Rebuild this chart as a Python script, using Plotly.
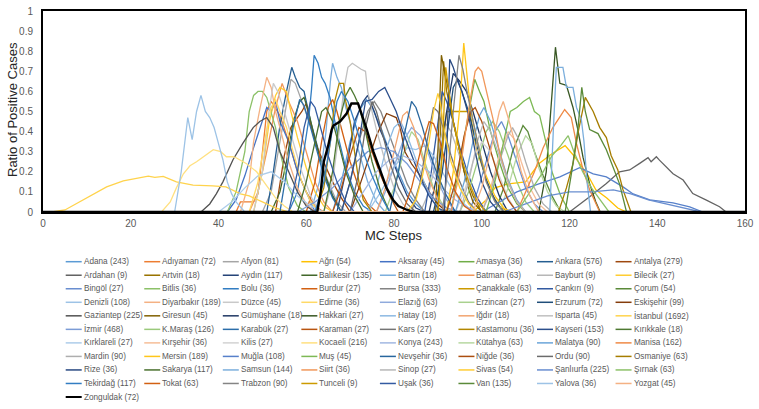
import colorsys
import plotly.graph_objects as go

provinces = ["Adana", "Adıyaman", "Afyon", "Ağrı", "Aksaray", "Amasya", "Ankara", "Antalya",
             "Ardahan", "Artvin", "Aydın", "Balıkesir", "Bartın", "Batman", "Bayburt", "Bilecik",
             "Bingöl", "Bitlis", "Bolu", "Burdur", "Bursa", "Çanakkale", "Çankırı", "Çorum",
             "Denizli", "Diyarbakır", "Düzce", "Edirne", "Elazığ", "Erzincan", "Erzurum", "Eskişehir",
             "Gaziantep", "Giresun", "Gümüşhane", "Hakkari", "Hatay", "Iğdır", "Isparta", "İstanbul",
             "İzmir", "K.Maraş", "Karabük", "Karaman", "Kars", "Kastamonu", "Kayseri", "Kırıkkale",
             "Kırklareli", "Kırşehir", "Kilis", "Kocaeli", "Konya", "Kütahya", "Malatya", "Manisa",
             "Mardin", "Mersin", "Muğla", "Muş", "Nevşehir", "Niğde", "Ordu", "Osmaniye",
             "Rize", "Sakarya", "Samsun", "Siirt", "Sinop", "Sivas", "Şanlıurfa", "Şırnak",
             "Tekirdağ", "Tokat", "Trabzon", "Tunceli", "Uşak", "Van", "Yalova", "Yozgat",
             "Zonguldak"]

cases = [243, 72, 81, 54, 45, 36, 576, 279,
         9, 18, 117, 135, 18, 63, 9, 27,
         27, 36, 36, 27, 333, 63, 9, 54,
         108, 189, 45, 36, 63, 27, 72, 99,
         225, 45, 18, 27, 18, 18, 45, 1692,
         468, 126, 27, 27, 27, 36, 153, 18,
         27, 36, 27, 216, 243, 63, 90, 162,
         90, 189, 108, 45, 36, 36, 90, 63,
         36, 117, 144, 36, 27, 54, 225, 63,
         117, 63, 90, 9, 36, 135, 36, 45,
         72]

# MC step positions of the read-off points of each series (same order as provinces)
series_x = [
    [66, 68, 70, 72, 73.7, 75, 77, 79, 81, 83, 85, 87],
    [44, 45, 48, 49, 50, 51, 52, 54, 56, 58, 60, 62, 64],
    [50, 52, 54, 55.5, 56.5, 57.5, 58.5, 60, 61.5, 63, 65, 67, 69],
    [98, 101, 103, 106, 110, 113, 116, 119, 121, 124, 126, 128.5, 131, 133],
    [42, 44, 46, 48, 49.5, 51, 52, 53, 54, 56, 58, 60, 62],
    [93, 95, 97, 98.4, 99.5, 100.5, 102, 104, 106, 108, 110],
    [51, 52.5, 54, 55.5, 56.7, 57.5, 58.5, 59.5, 61, 62.5, 64, 66, 68],
    [53, 55, 56.5, 58, 59, 60, 61, 62.5, 64, 66, 68, 70],
    [120, 124.6, 128.4, 131.4, 133.7, 136, 137.9, 138.6, 139.8, 140.5, 142, 143.6, 145.9, 148.1, 151.2, 154.2, 155.7],
    [90, 90.6, 91.3, 92, 93, 94.5, 96, 98, 100],
    [67, 69, 71, 73, 74, 75.5, 77, 79, 81, 83, 85, 87],
    [52, 54, 55.5, 57, 58.5, 59.5, 60.5, 62, 64, 66, 68],
    [61, 63, 64.5, 65.5, 66, 67, 68, 69, 70, 72, 74, 76, 78],
    [47, 49, 51, 53, 54.5, 56, 58, 60, 62, 64, 66],
    [86, 88, 90, 91.5, 93, 95, 97, 99, 101],
    [48, 50, 51.5, 53, 54, 55.5, 56.5, 58, 60, 62, 64, 66],
    [97, 99, 101, 103, 104.5, 106, 108, 110, 112, 114],
    [42, 44, 46, 47, 48, 49, 50, 51, 52, 53, 54, 56, 58, 60],
    [56, 58, 59.5, 60.5, 61.2, 61.8, 62.7, 63.5, 64.3, 65.4, 67, 69, 71, 73, 75],
    [60, 62, 63.5, 65, 66, 67, 68.5, 70, 72, 74, 76],
    [68, 70, 72, 74, 75.5, 77, 79, 81, 83, 85, 87],
    [90, 91, 92, 95, 97.3, 98, 99, 100.5, 102, 104, 106],
    [87, 88.5, 90, 91, 92, 93.5, 95, 97, 99, 101],
    [103, 105, 107, 109.4, 110.5, 112, 114, 116, 118],
    [74, 77, 80, 83, 85, 87, 89, 91, 93, 95, 97, 99],
    [45, 47, 48, 49.5, 51, 52, 53, 54, 56, 58, 60, 62],
    [48, 50, 51.5, 52.5, 53.5, 55, 57, 59, 61, 63],
    [47, 49, 50.5, 52, 53, 54, 55.5, 57, 59, 61, 63],
    [76, 78, 80, 82, 84, 86, 88, 90, 92, 94],
    [78, 80, 82, 84, 85.5, 87, 89, 91, 93],
    [89, 91, 92.5, 93.5, 94.5, 95.5, 97, 99, 101, 103, 105],
    [70, 72, 74, 76, 78.3, 80.5, 81.5, 82.5, 84, 86, 88, 90, 92],
    [36, 38, 39.5, 41, 43.3, 45.5, 47.9, 49.4, 51, 52.5, 54, 56, 58, 60, 62],
    [89.5, 90, 90.8, 91.5, 92.5, 93.5, 95, 96.5, 98, 100],
    [88, 90, 92, 93.5, 95, 96.5, 98, 100, 102, 104, 106],
    [113, 114.7, 115.8, 116.8, 117.8, 119.3, 120.8, 121.9, 123.1, 124.6, 126, 127],
    [74, 76, 78, 80, 81.5, 83, 85, 87, 89, 91],
    [76, 78, 80, 82, 83, 84.5, 86, 88, 90, 92],
    [64, 66, 67.5, 68.5, 69.5, 70.5, 72.5, 73.5, 74, 75, 76, 78, 80, 82, 84],
    [2, 5, 9, 14.5, 18.3, 22, 24, 25.5, 27.4, 30.4, 34.2, 38.7, 41.7, 45, 47, 50, 53, 56],
    [58, 62, 66, 70, 74, 77, 80, 83, 86, 89, 92, 95],
    [95, 97, 99, 101, 102.5, 104, 106, 108, 110, 112],
    [54, 55.5, 57, 58.5, 59.5, 61, 62.5, 64, 66, 68],
    [66, 68, 70, 72, 73.5, 75, 77, 79, 81],
    [84, 86, 87.5, 89, 90, 91.5, 93, 95, 97, 99],
    [62, 64, 65.5, 66.5, 67.5, 68.5, 69, 70, 71, 72, 73, 75],
    [68, 70, 72, 73.5, 75, 76.5, 77.9, 79, 80.5, 82, 84, 86, 88, 90, 92],
    [64, 66, 67.5, 69, 70, 71, 72, 73.5, 75, 77, 79],
    [40, 43, 46, 49, 52, 55, 58, 61, 64],
    [100, 102, 104, 106, 107.5, 109, 111, 113, 115],
    [94, 96, 98, 100, 102, 104, 106, 108],
    [27, 29, 30.4, 32, 33.5, 35, 37, 38.8, 40.5, 41.8, 43.3, 44, 46.4, 48.7, 51, 53, 55, 57],
    [70, 73, 76, 79, 82, 85, 88, 91, 94, 97, 100],
    [104, 106, 108, 110, 111.5, 113, 115, 117, 119],
    [94, 96, 98, 99.5, 100.5, 102, 104, 106, 108, 110],
    [108, 110, 112, 114, 116.2, 118, 118.9, 120.4, 121.6, 123.1, 124.6, 126.9],
    [100, 102, 104, 106, 107, 108.5, 110, 112, 114, 116],
    [92, 93.5, 95, 95.9, 96.4, 97, 98, 99.5, 101, 103, 105, 107],
    [100, 104, 108, 113, 117.8, 122.3, 125.4, 128.4, 132.2, 134.5, 138.3, 143.6, 147.4, 150.4],
    [101, 103, 105, 106.5, 108, 109.5, 110.9, 112, 113.2, 114.7, 116, 118, 120],
    [79, 81, 82.5, 84, 85, 86.5, 88, 90, 92, 94],
    [92, 94, 96, 97.5, 98.5, 100, 102, 104, 106, 108],
    [70, 72, 73.5, 75, 76, 77.5, 79, 81, 83, 85],
    [117.5, 119.3, 120.8, 122, 123.6, 125.4, 126.9, 128.4, 129.5, 131, 132.2, 134],
    [91.5, 92, 92.7, 93.5, 94.5, 95.5, 97, 98.5, 100, 102, 104],
    [58, 60, 62, 63.5, 64.5, 66, 67.5, 69, 71, 73],
    [115.5, 116.3, 117, 118.5, 119.3, 120.8, 121.6, 122.7, 123.3, 124, 124.8],
    [93, 95, 97.3, 98.5, 99.2, 100, 101.4, 102.6, 104, 106, 108, 110],
    [95, 97, 99, 100.5, 102, 104, 106, 108, 110],
    [83, 85, 86.5, 88, 89, 90, 90.5, 91.5, 93, 95, 97, 99],
    [105, 110, 115, 120, 125, 130, 134, 138, 142, 146, 150],
    [108, 111, 114, 116, 118, 119.7, 121, 123, 125, 127, 129],
    [62, 64, 65.5, 67, 68, 69.5, 71, 73, 75, 77, 79],
    [82, 84, 86, 88, 89, 90.5, 92, 94, 96, 98],
    [91, 92.5, 93.5, 94.8, 95.7, 96.8, 98, 99.5, 101, 103, 105],
    [90, 91, 91.8, 92.5, 93.5, 95, 97, 99, 101],
    [56, 58, 59.5, 61, 62, 63.5, 65, 67, 69, 71],
    [119, 120.5, 121.9, 122.8, 123.6, 124.6, 126.5, 128.4, 130, 131.4, 133],
    [30, 31.5, 33, 34, 35, 36, 37, 38, 39, 40, 41, 42, 43, 44, 46],
    [98, 100, 102, 104, 104.9, 106, 107.5, 109, 111, 113],
    [62.5, 63.3, 64, 65, 65.8, 66.2, 67.7, 69.2, 70.3, 71.8, 72.6, 73.8, 75.3, 76.8, 78.3, 79.8, 81, 83, 84.5],
]

# ratio of positive cases at those steps
series_y = [
    [0, 0.15, 0.35, 0.5, 0.56, 0.52, 0.42, 0.3, 0.2, 0.1, 0.04, 0],
    [0, 0.05, 0.05, 0.09, 0.3, 0.5, 0.55, 0.48, 0.35, 0.2, 0.1, 0.03, 0],
    [0, 0.1, 0.35, 0.55, 0.66, 0.64, 0.58, 0.5, 0.4, 0.28, 0.15, 0.05, 0],
    [0, 0.06, 0.12, 0.14, 0.15, 0.24, 0.29, 0.33, 0.28, 0.19, 0.11, 0.07, 0.02, 0],
    [0, 0.06, 0.18, 0.32, 0.42, 0.52, 0.5, 0.55, 0.45, 0.35, 0.2, 0.1, 0],
    [0, 0.25, 0.5, 0.66, 0.6, 0.55, 0.4, 0.25, 0.12, 0.04, 0],
    [0, 0.2, 0.43, 0.6, 0.72, 0.67, 0.62, 0.6, 0.45, 0.33, 0.2, 0.08, 0],
    [0, 0.28, 0.42, 0.47, 0.5, 0.54, 0.43, 0.32, 0.25, 0.15, 0.07, 0],
    [0, 0.076, 0.142, 0.2, 0.209, 0.242, 0.27, 0.25, 0.275, 0.258, 0.225, 0.19, 0.159, 0.092, 0.059, 0.026, 0],
    [0, 0.4, 0.75, 0.6, 0.5, 0.35, 0.2, 0.08, 0],
    [0, 0.2, 0.45, 0.55, 0.58, 0.5, 0.4, 0.3, 0.18, 0.08, 0.02, 0],
    [0, 0.1, 0.25, 0.45, 0.55, 0.57, 0.5, 0.36, 0.2, 0.08, 0],
    [0, 0.15, 0.4, 0.65, 0.74, 0.67, 0.62, 0.52, 0.45, 0.3, 0.15, 0.05, 0],
    [0, 0.1, 0.3, 0.52, 0.64, 0.55, 0.45, 0.3, 0.15, 0.05, 0],
    [0, 0.1, 0.3, 0.45, 0.4, 0.28, 0.15, 0.05, 0],
    [0, 0.2, 0.44, 0.58, 0.62, 0.6, 0.5, 0.37, 0.22, 0.1, 0.03, 0],
    [0, 0.1, 0.25, 0.4, 0.45, 0.38, 0.25, 0.12, 0.04, 0],
    [0, 0.1, 0.3, 0.5, 0.58, 0.6, 0.6, 0.57, 0.5, 0.42, 0.3, 0.12, 0.03, 0],
    [0, 0.1, 0.3, 0.45, 0.61, 0.78, 0.74, 0.67, 0.64, 0.57, 0.4, 0.22, 0.1, 0.03, 0],
    [0, 0.15, 0.35, 0.52, 0.56, 0.5, 0.38, 0.25, 0.12, 0.04, 0],
    [0, 0.15, 0.35, 0.5, 0.55, 0.5, 0.38, 0.25, 0.14, 0.06, 0],
    [0, 0.3, 0.5, 0.5, 0.5, 0.4, 0.3, 0.2, 0.1, 0.03, 0],
    [0, 0.2, 0.45, 0.6, 0.55, 0.45, 0.32, 0.18, 0.07, 0],
    [0, 0.12, 0.3, 0.43, 0.4, 0.3, 0.18, 0.08, 0],
    [0, 0.1, 0.22, 0.32, 0.31, 0.33, 0.28, 0.2, 0.12, 0.06, 0.02, 0],
    [0, 0.15, 0.35, 0.52, 0.67, 0.62, 0.5, 0.42, 0.25, 0.12, 0.04, 0],
    [0, 0.2, 0.5, 0.64, 0.6, 0.5, 0.35, 0.2, 0.08, 0],
    [0, 0.15, 0.35, 0.52, 0.56, 0.5, 0.42, 0.3, 0.15, 0.05, 0],
    [0, 0.1, 0.22, 0.35, 0.42, 0.38, 0.28, 0.15, 0.06, 0],
    [0, 0.12, 0.28, 0.4, 0.36, 0.25, 0.12, 0.04, 0],
    [0, 0.2, 0.45, 0.62, 0.66, 0.6, 0.5, 0.32, 0.16, 0.06, 0],
    [0, 0.12, 0.25, 0.38, 0.49, 0.47, 0.41, 0.3, 0.24, 0.18, 0.1, 0.04, 0],
    [0, 0.04, 0.09, 0.15, 0.26, 0.34, 0.42, 0.45, 0.47, 0.42, 0.3, 0.2, 0.1, 0.03, 0],
    [0, 0.3, 0.78, 0.7, 0.6, 0.45, 0.3, 0.15, 0.05, 0],
    [0, 0.2, 0.5, 0.69, 0.65, 0.6, 0.5, 0.35, 0.2, 0.08, 0],
    [0, 0.2, 0.5, 0.82, 0.64, 0.63, 0.52, 0.41, 0.27, 0.14, 0.05, 0],
    [0, 0.12, 0.3, 0.42, 0.45, 0.38, 0.26, 0.14, 0.05, 0],
    [0, 0.12, 0.3, 0.48, 0.5, 0.42, 0.3, 0.16, 0.06, 0],
    [0, 0.15, 0.4, 0.6, 0.72, 0.74, 0.71, 0.7, 0.6, 0.5, 0.41, 0.25, 0.12, 0.04, 0],
    [0, 0.01, 0.06, 0.125, 0.155, 0.17, 0.178, 0.172, 0.177, 0.15, 0.134, 0.13, 0.125, 0.09, 0.08, 0.05, 0.02, 0],
    [0, 0.05, 0.12, 0.22, 0.3, 0.32, 0.3, 0.24, 0.15, 0.07, 0.02, 0],
    [0, 0.1, 0.25, 0.4, 0.45, 0.4, 0.28, 0.15, 0.05, 0],
    [0, 0.2, 0.42, 0.56, 0.53, 0.42, 0.3, 0.18, 0.07, 0],
    [0, 0.12, 0.28, 0.42, 0.4, 0.3, 0.18, 0.08, 0],
    [0, 0.15, 0.35, 0.52, 0.5, 0.4, 0.28, 0.15, 0.05, 0],
    [0, 0.12, 0.35, 0.55, 0.64, 0.64, 0.55, 0.45, 0.3, 0.15, 0.06, 0],
    [0, 0.15, 0.35, 0.55, 0.56, 0.6, 0.62, 0.57, 0.5, 0.4, 0.28, 0.17, 0.08, 0.02, 0],
    [0, 0.2, 0.45, 0.58, 0.62, 0.58, 0.53, 0.4, 0.25, 0.1, 0],
    [0, 0.05, 0.12, 0.18, 0.2, 0.15, 0.08, 0.03, 0],
    [0, 0.12, 0.28, 0.4, 0.36, 0.25, 0.12, 0.04, 0],
    [0, 0.1, 0.25, 0.35, 0.3, 0.18, 0.07, 0],
    [0, 0.05, 0.12, 0.19, 0.23, 0.25, 0.28, 0.31, 0.3, 0.275, 0.275, 0.27, 0.24, 0.2, 0.13, 0.07, 0.03, 0],
    [0, 0.1, 0.2, 0.26, 0.28, 0.25, 0.2, 0.12, 0.06, 0.02, 0],
    [0, 0.12, 0.28, 0.38, 0.34, 0.22, 0.1, 0.03, 0],
    [0, 0.15, 0.35, 0.48, 0.52, 0.45, 0.3, 0.16, 0.06, 0],
    [0, 0.1, 0.2, 0.32, 0.42, 0.48, 0.51, 0.47, 0.34, 0.21, 0.11, 0],
    [0, 0.1, 0.25, 0.38, 0.42, 0.36, 0.25, 0.12, 0.04, 0],
    [0, 0.2, 0.52, 0.84, 0.74, 0.6, 0.45, 0.3, 0.18, 0.08, 0.02, 0],
    [0, 0.05, 0.1, 0.14, 0.175, 0.22, 0.19, 0.175, 0.125, 0.09, 0.06, 0.045, 0.025, 0],
    [0, 0.15, 0.35, 0.5, 0.52, 0.55, 0.57, 0.5, 0.48, 0.34, 0.2, 0.08, 0],
    [0, 0.2, 0.4, 0.55, 0.52, 0.42, 0.3, 0.18, 0.08, 0],
    [0, 0.15, 0.38, 0.5, 0.52, 0.45, 0.3, 0.16, 0.06, 0],
    [0, 0.2, 0.42, 0.55, 0.5, 0.38, 0.25, 0.12, 0.04, 0],
    [0, 0.12, 0.24, 0.4, 0.57, 0.5, 0.42, 0.37, 0.28, 0.21, 0.11, 0],
    [0, 0.3, 0.76, 0.72, 0.65, 0.6, 0.48, 0.3, 0.15, 0.05, 0],
    [0, 0.15, 0.35, 0.5, 0.52, 0.45, 0.33, 0.2, 0.08, 0],
    [0, 0.4, 0.72, 0.72, 0.62, 0.62, 0.52, 0.46, 0.35, 0.15, 0],
    [0, 0.2, 0.55, 0.7, 0.72, 0.7, 0.57, 0.46, 0.3, 0.15, 0.05, 0],
    [0, 0.15, 0.35, 0.45, 0.4, 0.28, 0.15, 0.05, 0],
    [0, 0.06, 0.18, 0.35, 0.5, 0.59, 0.55, 0.4, 0.25, 0.12, 0.04, 0],
    [0, 0.04, 0.08, 0.1, 0.1, 0.11, 0.09, 0.06, 0.04, 0.02, 0],
    [0, 0.1, 0.2, 0.28, 0.33, 0.38, 0.3, 0.2, 0.12, 0.06, 0],
    [0, 0.15, 0.35, 0.55, 0.6, 0.55, 0.45, 0.3, 0.18, 0.08, 0],
    [0, 0.12, 0.3, 0.45, 0.44, 0.35, 0.22, 0.1, 0.03, 0],
    [0, 0.25, 0.5, 0.78, 0.71, 0.58, 0.45, 0.3, 0.15, 0.05, 0],
    [0, 0.3, 0.72, 0.6, 0.45, 0.3, 0.15, 0.05, 0],
    [0, 0.2, 0.42, 0.55, 0.52, 0.4, 0.28, 0.15, 0.05, 0],
    [0, 0.2, 0.41, 0.62, 0.5, 0.41, 0.39, 0.31, 0.22, 0.14, 0],
    [0, 0.2, 0.47, 0.36, 0.5, 0.58, 0.5, 0.47, 0.42, 0.34, 0.26, 0.15, 0.09, 0.05, 0],
    [0, 0.12, 0.3, 0.5, 0.55, 0.47, 0.35, 0.2, 0.08, 0],
    [0, 0.1, 0.25, 0.33, 0.41, 0.43, 0.45, 0.49, 0.54, 0.54, 0.49, 0.41, 0.3, 0.21, 0.12, 0.06, 0.03, 0.01, 0],
]

x_ticks = [0, 20, 40, 60, 80, 100, 120, 140, 160]
y_ticks = [0, 0.1, 0.2, 0.3, 0.4, 0.5, 0.6, 0.7, 0.8, 0.9, 1]
y_tick_labels = ["0", "0.1", "0.2", "0.3", "0.4", "0.5", "0.6", "0.7", "0.8", "0.9", "1"]
x_range = [0, 160]
y_range = [0, 1]

# ---- styling (Excel-like default palette with variants) ----
ACCENTS = ["#5B9BD5", "#ED7D31", "#A5A5A5", "#FFC000", "#4472C4", "#70AD47"]
VARIANTS = [(1, 0), (0.6, 0), (0.8, 0.2), (0.8, 0), (0.6, 0.4), (0.5, 0), (0.7, 0.3),
            (0.7, 0), (0.5, 0.5), (0.9, 0.1), (0.65, 0), (0.8, 0.2), (0.8, 0), (0.6, 0.4)]


def palette_color(i):
    base = ACCENTS[i % 6]
    mod, off = VARIANTS[(i // 6) % len(VARIANTS)]
    r, g, b = (int(base[k:k + 2], 16) / 255 for k in (1, 3, 5))
    h, l, s = colorsys.rgb_to_hls(r, g, b)
    l = min(1.0, l * mod + off)
    r, g, b = colorsys.hls_to_rgb(h, l, s)
    return "#%02x%02x%02x" % (round(r * 255), round(g * 255), round(b * 255))


colors = [palette_color(i) for i in range(len(provinces))]
colors[provinces.index("Zonguldak")] = "#000000"

FONT = "Liberation Sans, Arial, sans-serif"
TXT = "#595959"
W, H = 759, 409
ML, MR, MT, MB = 43, 14, 11, 197
PW, PH = W - ML - MR, H - MT - MB

fig = go.Figure()
for i, name in enumerate(provinces):
    xs = [x_range[0]] + series_x[i] + [x_range[1]]
    ys = [0] + series_y[i] + [0]
    fig.add_trace(go.Scatter(
        x=xs, y=ys, mode="lines", name=f"{name} ({cases[i]})",
        line=dict(color=colors[i], width=2.4 if name == "Zonguldak" else 1.3),
        showlegend=False, hoverinfo="name+x+y"))


def px_x(px):
    return (px - ML) / PW


def px_y(py):
    return (H - MB - py) / PH


shapes = []
annotations = []
# custom legend, 8 columns
for i, name in enumerate(provinces):
    col, row = i % 8, i // 8
    lx = 65.7 + 78.55 * col
    ly = 261.7 + 13.53 * row
    shapes.append(dict(type="line", xref="paper", yref="paper",
                       x0=px_x(lx), x1=px_x(lx + 16), y0=px_y(ly), y1=px_y(ly),
                       line=dict(color=colors[i], width=2 if name == "Zonguldak" else 1.5)))
    annotations.append(dict(xref="paper", yref="paper", x=px_x(lx + 16), y=px_y(ly),
                            xanchor="left", yanchor="middle", showarrow=False,
                            text=f"{name} ({cases[i]})",
                            font=dict(family=FONT, size=8.2, color=TXT)))

annotations.append(dict(xref="paper", yref="paper", x=px_x(12), y=px_y(110),
                        text="Ratio of Positive Cases", textangle=-90, showarrow=False,
                        xanchor="center", yanchor="middle",
                        font=dict(family=FONT, size=13, color="#262626")))
annotations.append(dict(xref="paper", yref="paper", x=px_x(394), y=px_y(236),
                        text="MC Steps", showarrow=False, xanchor="center", yanchor="middle",
                        font=dict(family=FONT, size=13, color="#262626")))

fig.update_layout(
    width=W, height=H, autosize=False,
    margin=dict(l=ML, r=MR, t=MT, b=MB, pad=0, autoexpand=False),
    paper_bgcolor="white", plot_bgcolor="white",
    showlegend=False,
    shapes=shapes, annotations=annotations,
    font=dict(family=FONT, color=TXT),
)
fig.update_xaxes(range=x_range, tickvals=x_ticks, ticktext=[str(v) for v in x_ticks],
                 showgrid=False, zeroline=False, showline=True, mirror=True,
                 linecolor="black", linewidth=2, ticks="", layer="below traces",
                 automargin=False, ticklabelstandoff=1,
                 tickfont=dict(family=FONT, size=10, color=TXT))
fig.update_yaxes(range=y_range, tickvals=y_ticks, ticktext=y_tick_labels,
                 showgrid=False, zeroline=False, showline=True, mirror=True,
                 linecolor="black", linewidth=2, ticks="", layer="below traces",
                 automargin=False, ticklabelstandoff=6,
                 tickfont=dict(family=FONT, size=10, color=TXT))

fig.write_html("out.html", config={"displayModeBar": False},
               post_script="document.body.style.margin='0';document.body.style.overflow='hidden';")
